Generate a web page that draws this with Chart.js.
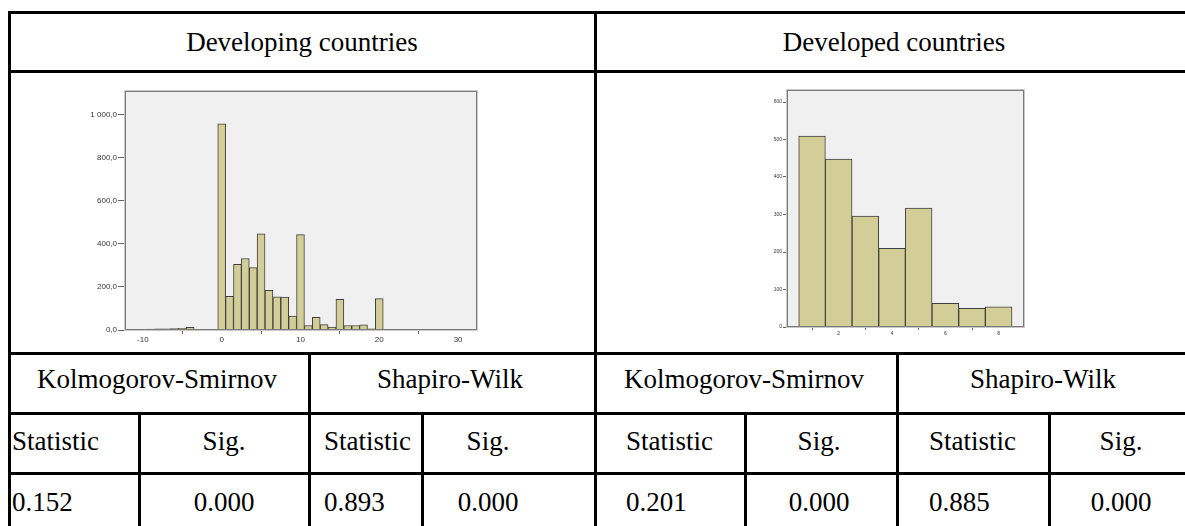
<!DOCTYPE html>
<html>
<head>
<meta charset="utf-8">
<script src="https://cdn.jsdelivr.net/npm/chart.js@4"></script>
<style>
  html, body { margin: 0; padding: 0; background: #fff; }
  #page {
    position: relative; width: 1185px; height: 526px; overflow: hidden; background: #fff;
    font-family: "Liberation Serif", "Times New Roman", serif;
  }
  .rule { position: absolute; background: #000; }
  .txt {
    position: absolute; font-size: 27px; line-height: 32px; height: 32px;
    white-space: nowrap; color: #000;
  }
  .txt.c { text-align: center; }
  canvas { position: absolute; }
</style>
</head>
<body>
<div id="page">
  <canvas id="developingChart" width="425" height="266" style="left:60px;top:84px"></canvas>
  <canvas id="developedChart" width="305" height="266" style="left:730px;top:84px"></canvas>
</div>
<script>
// Developing countries: histogram bins (bin centre) and counts
const developingBins   = [-9, -8, -7, -6, -5, -4, 0, 1, 2, 3, 4, 5, 6, 7, 8, 9, 10, 11, 12, 13, 14, 15, 16, 17, 18, 19, 20];
const developingCounts = [4, 5, 6, 7, 8, 12, 958, 156, 305, 332, 290, 447, 184, 154, 153, 65, 443, 20, 59, 25, 13, 142, 21, 21, 24, 6, 146];
const developingYTicks  = [0, 200, 400, 600, 800, 1000];
const developingYLabels = ['0,0', '200,0', '400,0', '600,0', '800,0', '1 000,0'];
const developingXTicks  = [-10, 0, 10, 20, 30];
const developingXLabels = ['-10', '0', '10', '20', '30'];

// Developed countries: histogram bins (bin centre) and counts
const developedBins   = [1, 2, 3, 4, 5, 6, 7, 8];
const developedCounts = [509, 448, 296, 210, 317, 63, 50, 54];
const developedYTicks  = [0, 100, 200, 300, 400, 500, 600];
const developedYLabels = ['0', '100', '200', '300', '400', '500', '600'];
const developedXTicks  = [2, 4, 6, 8];
const developedXLabels = ['2', '4', '6', '8'];

// Normality tests table
const groupTitles = ['Developing countries', 'Developed countries'];
const testNames   = ['Kolmogorov-Smirnov', 'Shapiro-Wilk'];
const columnHeads = ['Statistic', 'Sig.'];
const developingResults = ['0.152', '0.000', '0.893', '0.000'];
const developedResults  = ['0.201', '0.000', '0.885', '0.000'];

// ---- table layout ----
const page = document.getElementById('page');
const LINE = 3;
const colX = [9, 139, 309, 422, 595, 745, 897, 1049, 1193];
const rowY = [12, 71, 353, 413, 473, 533];
const textMid = [42, null, 379, 441, 502];

function rule(x1, y1, x2, y2) {
  const d = document.createElement('div');
  d.className = 'rule';
  d.style.left = (x1 - 1) + 'px';
  d.style.top = (y1 - 1) + 'px';
  if (y1 === y2) {
    d.style.width = (x2 - x1 + LINE) + 'px'; d.style.height = LINE + 'px';
  } else {
    d.style.width = LINE + 'px'; d.style.height = (y2 - y1 + LINE) + 'px';
  }
  page.appendChild(d);
}
function text(str, x, yMid, align, width) {
  const d = document.createElement('div');
  d.className = 'txt' + (align === 'c' ? ' c' : '');
  d.textContent = str;
  if (align === 'c') { d.style.left = (x - width / 2) + 'px'; d.style.width = width + 'px'; }
  else { d.style.left = x + 'px'; }
  d.style.top = (yMid - 16) + 'px';
  page.appendChild(d);
}

// horizontal rules
rowY.forEach(y => rule(colX[0], y, colX[8], y));
// outer and middle verticals
[colX[0], colX[4], colX[8]].forEach(x => rule(x, rowY[0], x, rowY[5]));
// test-name split
[colX[2], colX[6]].forEach(x => rule(x, rowY[2], x, rowY[5]));
// statistic / sig. split
[colX[1], colX[3], colX[5], colX[7]].forEach(x => rule(x, rowY[3], x, rowY[5]));

text(groupTitles[0], (colX[0] + colX[4]) / 2, textMid[0], 'c', 560);
text(groupTitles[1], (colX[4] + colX[8]) / 2, textMid[0], 'c', 560);
[[0, 2], [2, 4], [4, 6], [6, 8]].forEach(([a, b], i) => {
  text(testNames[i % 2], (colX[a] + colX[b]) / 2 - 2, textMid[2], 'c', 300);
});
const statLeft = [12, 324, 626, 929];
const sigMid = [224, 488, 819, 1121];
const results = developingResults.concat(developedResults);
for (let k = 0; k < 4; k++) {
  text(columnHeads[0], statLeft[k], textMid[3]);
  text(columnHeads[1], sigMid[k], textMid[3], 'c', 160);
  text(results[k * 2], statLeft[k], textMid[4]);
  text(results[k * 2 + 1], sigMid[k], textMid[4], 'c', 160);
}

// ---- histograms ----
const plotFrame = {
  id: 'plotFrame',
  beforeDatasetsDraw(chart) {
    const { ctx, chartArea: a } = chart;
    ctx.save();
    ctx.fillStyle = '#f0f0f0';
    ctx.fillRect(a.left, a.top, a.right - a.left, a.bottom - a.top);
    ctx.restore();
  },
  afterDatasetsDraw(chart) {
    const { ctx, chartArea: a } = chart;
    ctx.save();
    ctx.strokeStyle = '#c9c9c9';
    ctx.lineWidth = 1;
    ctx.strokeRect(a.left - 0.5, a.top - 0.5, a.right - a.left + 1, a.bottom - a.top + 1);
    ctx.strokeStyle = '#7a7a7a';
    ctx.strokeRect(a.left + 0.5, a.top + 0.5, a.right - a.left - 1, a.bottom - a.top - 1);
    ctx.restore();
  }
};

function histogram(id, cfg) {
  const tickFont = { family: '"Liberation Sans", Arial, sans-serif', size: cfg.fontSize };
  new Chart(document.getElementById(id), {
    type: 'bar',
    data: {
      datasets: [{
        data: cfg.bins.map((b, i) => ({ x: b, y: cfg.counts[i] })),
        backgroundColor: '#d3ce97',
        borderColor: '#404040',
        borderWidth: 1,
        borderSkipped: 'start',
        barPercentage: 1,
        categoryPercentage: 1
      }]
    },
    options: {
      responsive: false,
      animation: false,
      devicePixelRatio: 1,
      layout: { padding: cfg.padding },
      plugins: { legend: { display: false }, tooltip: { enabled: false } },
      scales: {
        x: {
          type: 'linear', min: cfg.xMin, max: cfg.xMax, offset: false,
          afterBuildTicks: s => { s.ticks = cfg.xTicks.map(v => ({ value: v })); },
          afterFit: s => { s.height = cfg.xAxisHeight; },
          grid: { drawOnChartArea: false, drawTicks: true, tickLength: cfg.xTickLen, tickColor: '#666' },
          border: { display: false },
          ticks: {
            font: tickFont, color: '#333', padding: 1, maxRotation: 0, autoSkip: false,
            callback: v => cfg.xLabels[cfg.xTicks.indexOf(v)]
          }
        },
        y: {
          min: 0, max: cfg.yMax,
          afterBuildTicks: s => { s.ticks = cfg.yTicks.map(v => ({ value: v })); },
          afterFit: s => { s.width = cfg.yAxisWidth; },
          grid: { drawOnChartArea: false, drawTicks: true, tickLength: cfg.yTickLen, tickColor: '#666' },
          border: { display: false },
          ticks: {
            font: tickFont, color: '#333', padding: 1, autoSkip: false,
            callback: v => cfg.yLabels[cfg.yTicks.indexOf(v)]
          }
        }
      }
    },
    plugins: [plotFrame]
  });
}

histogram('developingChart', {
  bins: developingBins, counts: developingCounts,
  xTicks: developingXTicks, xLabels: developingXLabels,
  yTicks: developingYTicks, yLabels: developingYLabels,
  xMin: -12.27, xMax: 32.4, yMax: 1110,
  padding: { top: 7, right: 8, left: 0, bottom: 0 },
  yAxisWidth: 65, xAxisHeight: 20, xTickLen: 4, yTickLen: 7, fontSize: 8
});

histogram('developedChart', {
  bins: developedBins, counts: developedCounts,
  xTicks: developedXTicks, xLabels: developedXLabels,
  yTicks: developedYTicks, yLabels: developedYLabels,
  xMin: 0.06, xMax: 8.95, yMax: 632,
  padding: { top: 6, right: 11, left: 0, bottom: 0 },
  yAxisWidth: 57, xAxisHeight: 23, xTickLen: 3, yTickLen: 4, fontSize: 5
});
</script>
</body>
</html>
